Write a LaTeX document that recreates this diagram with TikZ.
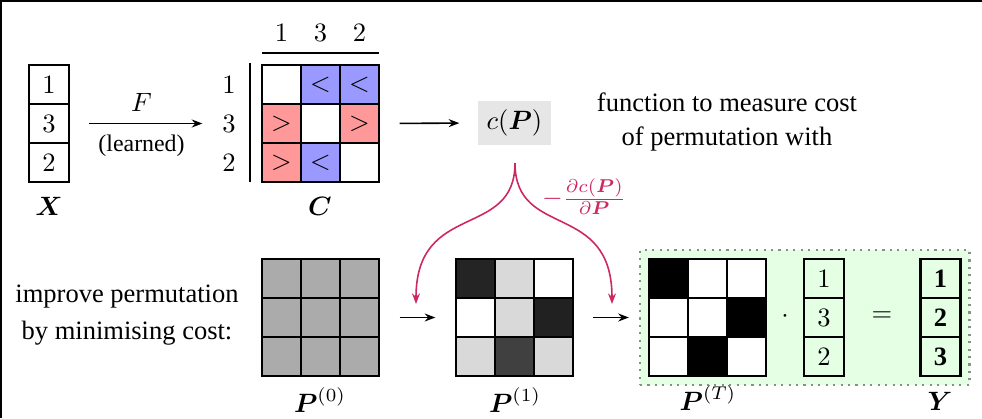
\documentclass[tikz,border=0pt]{standalone}
\usepackage{amsmath}
\usepackage{fontspec}
\setmainfont{Liberation Serif}
\usetikzlibrary{arrows.meta, positioning, calc, fit, backgrounds}
\definecolor{lessblue}{RGB}{153,153,255}
\definecolor{morered}{RGB}{255,153,153}
\definecolor{costgray}{RGB}{230,230,230}
\definecolor{gradpink}{RGB}{204,40,100}
\definecolor{optgreen}{RGB}{229,255,229}
\tikzset{
  cell/.style={rectangle, draw=black, thick, inner sep=0pt,
    minimum width=14.7pt, minimum height=14.7pt},
  vcell/.style={cell, minimum width=15.1pt},
  arrow/.style={-{Stealth[length=4pt,width=3pt]}, semithick},
  grad/.style={-{Stealth[length=4pt,width=3pt]}, semithick, color=gradpink},
  optbox/.style={rectangle, fill=optgreen, draw=black!45, dotted, thick, inner sep=3pt}
}
\begin{document}
\begin{tikzpicture}[x=0.377pt, y=-0.377pt]
    \useasboundingbox (0,0) rectangle (982,418);
    \draw[line width=1.5pt] (0,418) -- (0,0) -- (982,0);
    % Input X
    \foreach \t [count=\r] in {1,3,2}
      \node[vcell] (X-\r-1) at (49,{45.5+39*\r}) {$\t$};
    \node (Xlbl) at (49,206) {$\boldsymbol{X}$};
    % Comparison matrix C
    \foreach \r/\c/\f/\t in {1/1/white/{}, 1/2/lessblue/$<$, 1/3/lessblue/$<$,
                            2/1/morered/$>$, 2/2/white/{}, 2/3/morered/$>$,
                            3/1/morered/$>$, 3/2/lessblue/$<$, 3/3/white/{}}
      \node[cell, fill=\f] (C-\r-\c) at ({242.5+39*\c},{45.5+39*\r}) {\t};
    \foreach \t [count=\i] in {1,3,2} {
      \node (Crow-\i) at (229,{45.5+39*\i}) {$\t$};
      \node (Ccol-\i) at ({242.5+39*\i},33) {$\t$};
    }
    \draw[semithick] (262,53) -- (379,53);
    \draw[semithick] (250,63) -- (250,182);
    \node (Clbl) at (320,206) {$\boldsymbol{C}$};
    \draw[arrow, shorten <=7.2pt, shorten >=4pt] (X-2-1.east) -- (Crow-2.west)
      node[midway, above=1pt] {$F$}
      node[midway, below=0.5pt, font=\small] {(learned)};
    % Cost
    \node[fill=costgray, minimum width=27.5pt, minimum height=15.8pt] (cost) at (514.5,123) {$c(\boldsymbol{P})$};
    \draw[arrow, shorten <=7.4pt, shorten >=6.8pt] (C-2-3.east) -- (cost.west);
    \node[align=center] (costtxt) at (727,122) {function to measure cost\\[1pt] of permutation with};
    % Gradient
    \coordinate (split) at (515,163);
    \coordinate (gradL) at (416,304);
    \coordinate (gradR) at (612,304);
    \draw[grad] (split) .. controls (515,240) and (416,200) .. (gradL);
    \draw[grad] (split) .. controls (515,240) and (612,200) .. (gradR);
    \node[text=gradpink] (gradlbl) at (584,197) {$-\frac{\partial c(\boldsymbol{P})}{\partial \boldsymbol{P}}$};
    % Optimisation
    \node[align=center] (opttxt) at (127,315) {improve permutation\\[2pt] by minimising cost:};
    \foreach \r in {1,2,3}
      \foreach \c in {1,2,3}
        \node[cell, fill=black!33] (P0-\r-\c) at ({242.5+39*\c},{239.5+39*\r}) {};
    \foreach \r/\c/\g in {1/1/86, 1/2/15, 1/3/0, 2/1/0, 2/2/15, 2/3/87,
                         3/1/15, 3/2/75, 3/3/15}
      \node[cell, fill=black!\g] (P1-\r-\c) at ({436.5+39*\c},{239.5+39*\r}) {};
    \foreach \r/\c/\g in {1/1/100, 1/2/0, 1/3/0, 2/1/0, 2/2/0, 2/3/100,
                         3/1/0, 3/2/100, 3/3/0}
      \node[cell, fill=black!\g] (PT-\r-\c) at ({629.5+39*\c},{239.5+39*\r}) {};
    \foreach \t [count=\r] in {1,3,2}
      \node[vcell] (v-\r-1) at (824,{239.5+39*\r}) {$\t$};
    \foreach \t [count=\r] in {1,2,3}
      \node[vcell] (Y-\r-1) at (940.5,{239.5+39*\r}) {$\mathbf{\t}$};
    \node (dot) at (785,317) {$\cdot$};
    \node (eq) at (882,317) {$=$};
    \begin{scope}[on background layer]
      \node[optbox, fit=(PT-1-1)(Y-3-1)] (opt) {};
    \end{scope}
    \draw[arrow, shorten <=7.4pt, shorten >=7.4pt] (P0-2-3.east) -- (P1-2-1.west);
    \draw[arrow, shorten <=7.3pt, shorten >=7.2pt] (P1-2-3.east) -- (PT-2-1.west);
    \node (P0lbl) at (320,400) {$\boldsymbol{P}^{(0)}$};
    \node (P1lbl) at (515,400) {$\boldsymbol{P}^{(1)}$};
    \node (PTlbl) at (708,398) {$\boldsymbol{P}^{(T)}$};
    \node (Ylbl) at (940,401) {$\boldsymbol{Y}$};
\end{tikzpicture}
\end{document}
